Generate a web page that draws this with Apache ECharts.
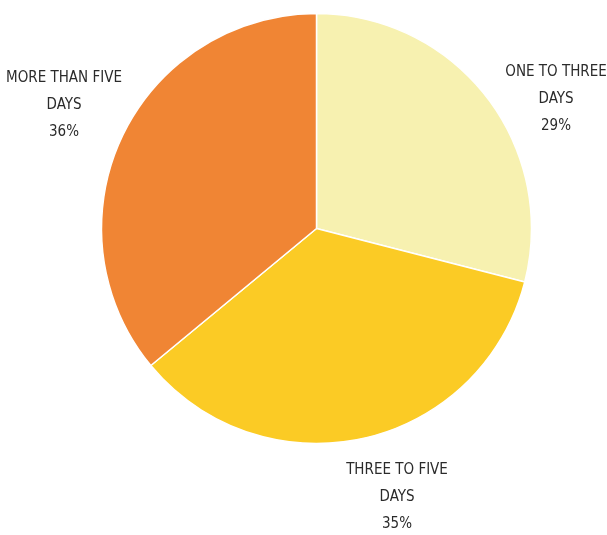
<!DOCTYPE html>
<html>
<head>
<meta charset="utf-8">
<script src="https://cdn.jsdelivr.net/npm/echarts@6/dist/echarts.min.js"></script>
<style>
html,body{margin:0;padding:0;background:#fff;}
#chart{width:607px;height:535px;}
</style>
</head>
<body>
<div id="chart"></div>
<script>
var categories = ['ONE TO THREE\nDAYS', 'THREE TO FIVE\nDAYS', 'MORE THAN FIVE\nDAYS'];
var values = [29, 35, 36];
var colors = ['#F7F1B0', '#FBCB25', '#F08534'];
var labelAnchors = [[556, 99], [397, 497], [64, 105]];

var chart = echarts.init(document.getElementById('chart'));
chart.setOption({
  animation: false,
  series: [{
    type: 'pie',
    center: [316.5, 228.5],
    radius: 215,
    startAngle: 90,
    clockwise: true,
    avoidLabelOverlap: false,
    itemStyle: { borderColor: '#ffffff', borderWidth: 1.5 },
    label: {
      show: true,
      position: 'outside',
      formatter: function (p) { return p.name + '\n' + Math.round(p.value) + '%'; },
      fontFamily: '"DejaVu Sans Condensed", "Liberation Sans", sans-serif',
      fontSize: 15,
      lineHeight: 27,
      color: '#2b2b2b',
      align: 'center'
    },
    labelLine: { show: false },
    labelLayout: function (params) {
      var a = labelAnchors[params.dataIndex];
      return { x: a[0], y: a[1], align: 'center', verticalAlign: 'middle' };
    },
    data: categories.map(function (c, i) {
      return { name: c, value: values[i], itemStyle: { color: colors[i] } };
    })
  }]
});
</script>
</body>
</html>
